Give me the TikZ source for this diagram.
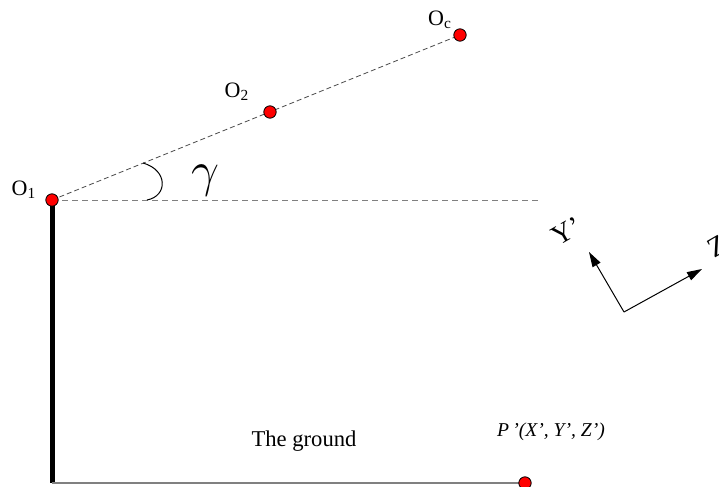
\documentclass[tikz,border=0pt]{standalone}
\usepackage{fontspec}
\setmainfont{Liberation Serif}
\usetikzlibrary{arrows.meta}
\begin{document}
\begin{tikzpicture}[x=0.5pt,y=-0.5pt,
    pnt/.style={circle,draw=black,fill=red,line width=0.4pt,inner sep=0pt,minimum size=6.2pt},
    lbl/.style={inner sep=0pt,font=\fontsize{11}{13}\selectfont},
    axis/.style={line width=0.5pt,-{Triangle[length=7.5pt,width=4.5pt]}}]
    \useasboundingbox (0,0) rectangle (719,487);
    \clip (0,0) rectangle (719,487);
    \coordinate (corner) at (52,483);
    \coordinate (hend) at (540,200);
    \coordinate (orig) at (624,312);
    \coordinate (ytip) at (589,252);
    \coordinate (ztip) at (702,269);
    \draw [line width=2.5pt] (52,200) -- (corner);
    \draw [gray, line width=0.75pt] (corner) -- (525,483);
    \draw [gray, line width=0.5pt, dash pattern=on 3pt off 2pt] (52,200) -- (hend);
    \draw [black!70, line width=0.4pt, dash pattern=on 2.5pt off 1.5pt] (52,200) -- (460,35);
    \draw [line width=0.5pt] (143,163) .. controls (168,170) and (168,196) .. (147,200);
    \node [pnt] (o1) at (52,200) {};
    \node [pnt] (o2) at (270,112) {};
    \node [pnt] (oc) at (460,35) {};
    \node [pnt] (pp) at (525,483) {};
    \node [lbl] at (24,190) {O\textsubscript{1}};
    \node [lbl] at (237,92) {O\textsubscript{2}};
    \node [lbl] at (440,20) {O\textsubscript{c}};
    \node [inner sep=0pt,font=\fontsize{23}{25}\selectfont] at (205,181) {$\gamma$};
    \draw [axis] (orig) -- (ytip);
    \draw [axis] (orig) -- (ztip);
    \node [lbl, rotate=30, font=\fontsize{14}{16}\selectfont] at (567,231) {Y’};
    \node [lbl, rotate=30, font=\fontsize{14}{16}\selectfont] at (721,244) {Z’};
    \node [lbl, font=\fontsize{11.3}{13}\selectfont] at (304,441) {The ground};
    \node [lbl, font=\fontsize{9.8}{12}\selectfont\itshape] at (551,432) {P\,’(X’, Y’, Z’)};
\end{tikzpicture}
\end{document}
